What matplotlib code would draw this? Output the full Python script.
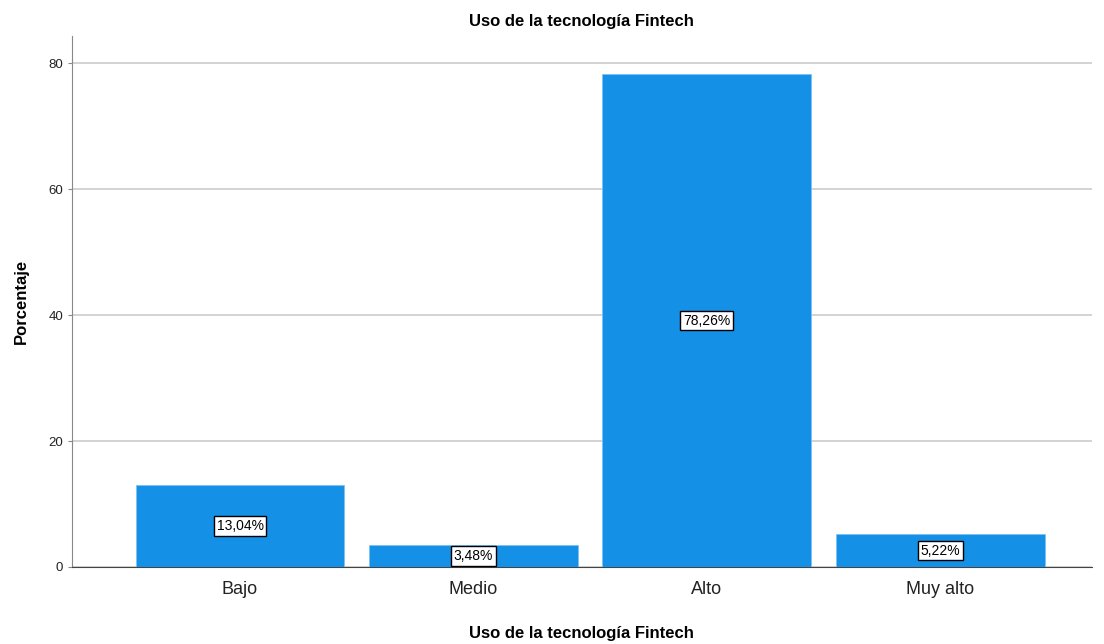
import matplotlib.pyplot as plt

plt.rcParams['font.family'] = ['Liberation Sans', 'DejaVu Sans']

categorias = ['Bajo', 'Medio', 'Alto', 'Muy alto']
porcentajes = [13.04, 3.48, 78.26, 5.22]
etiquetas = ['13,04%', '3,48%', '78,26%', '5,22%']
yticks = [0, 20, 40, 60, 80]

fig = plt.figure(figsize=(11.04, 6.44), dpi=100)
ax = fig.add_axes([0.0652, 0.1196, 0.9238, 0.8244])

x = range(len(categorias))
ax.bar(x, porcentajes, width=0.895, color='#1490E6', edgecolor='#7EC0F0', linewidth=0.6, zorder=3)

for xi, v, t in zip(x, porcentajes, etiquetas):
    ax.text(xi, v / 2, t, ha='center', va='center', fontsize=10, color='black', zorder=4,
            bbox=dict(boxstyle='square,pad=0.2', facecolor='white', edgecolor='black', linewidth=1))

ax.set_xlim(-0.72, 3.65)
ax.set_ylim(0, 84.3)
ax.set_yticks(yticks)
ax.set_xticks(list(x))
ax.set_xticklabels(categorias, fontsize=13, color='#222222')
ax.tick_params(axis='x', length=0, pad=10)
ax.tick_params(axis='y', labelsize=9.5, length=3, color='#888888', labelcolor='#222222')
ax.yaxis.grid(True, color='#CCCCCC', linewidth=1.2, zorder=0)

for s in ['top', 'right']:
    ax.spines[s].set_visible(False)
ax.spines['left'].set_color('#888888')
ax.spines['bottom'].set_color('#444444')

ax.set_title('Uso de la tecnología Fintech', fontsize=12, fontweight='bold', pad=7)
ax.set_xlabel('Uso de la tecnología Fintech', fontsize=12, fontweight='bold', labelpad=20)
ax.set_ylabel('Porcentaje', fontsize=12, fontweight='bold', labelpad=14)

fig.savefig('out.png', dpi=100)
